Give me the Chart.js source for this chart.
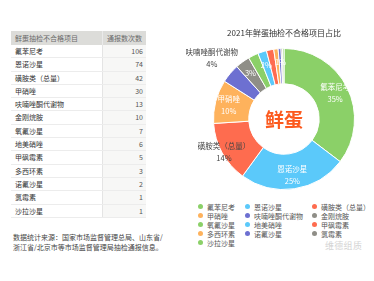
<!DOCTYPE html>
<html>
<head>
<meta charset="utf-8">
<script src="https://cdn.jsdelivr.net/npm/chart.js@4.4.1/dist/chart.umd.min.js"></script>
<style>
  body { margin: 0; width: 374px; height: 281px; background: #fff; position: relative; overflow: hidden;
         font-family: "Noto Sans CJK SC", "Noto Sans", sans-serif; }
  #table { position: absolute; left: 11px; top: 31px; width: 135px; font-size: 7px; }
  .row { display: flex; height: 13.3px; line-height: 13.3px; border-bottom: 1px solid #ececec; box-sizing: border-box; }
  .row .name { width: 87px; padding-left: 4px; color: #333; border-right: 1px solid #e4e4e4; }
  .row .val { flex: 1; text-align: right; padding-right: 3px; color: #555; background: #f7f7f6; }
  .row.head { height: 14px; line-height: 14px; background: #dcdcd9; border-bottom: none; }
  .row.head .name, .row.head .val { color: #6a6a6a; background: none; border-right: 1px solid #eaeaea; }
  .row.head .val { text-align: left; padding-left: 4px; border-right: none; }
  #note { position: absolute; left: 13px; top: 232px; font-size: 7px; line-height: 10px; color: #444; }
  #chartBox { position: absolute; left: 180px; top: 0; width: 194px; height: 200px; }
  #legend { position: absolute; left: 198px; top: 202px; font-size: 7px; color: #555;
            display: grid; grid-template-columns: 47px 67px auto; grid-auto-rows: 9.1px; }
  #legend div { display: flex; align-items: center; white-space: nowrap; }
  #legend span.dot { width: 5px; height: 5px; border-radius: 50%; margin-right: 4px; flex: none; }
  #mark { position: absolute; left: 325px; top: 239px; font-size: 9px; color: #d4d4d4; letter-spacing: 0.3px; }
</style>
</head>
<body>
<div id="table"></div>
<div id="note">数据统计来源：国家市场监督管理总局、山东省/<br>浙江省/北京市等市场监督管理局抽检通报信息。</div>
<div id="chartBox"><canvas id="myChart"></canvas></div>
<div id="legend"></div>
<div id="mark">维德组质</div>
<script>
const headers = ["鲜蛋抽检不合格项目", "通报数次数"];
const items = ["氟苯尼考", "恩诺沙星", "磺胺类（总量）", "甲硝唑", "呋喃唑酮代谢物", "金刚烷胺",
  "氧氟沙星", "地美硝唑", "甲砜霉素", "多西环素", "诺氟沙星", "氯霉素", "沙拉沙星"];
const counts = [106, 74, 42, 30, 13, 10, 7, 6, 5, 3, 2, 1, 1];
const chartTitle = "2021年鲜蛋抽检不合格项目占比";
const centerText = "鲜蛋";

const palette = ["#8bd068", "#5bc9fa", "#fe6c4f", "#feb25c", "#6d70d1", "#8f8e87"];
const colors = items.map((item, i) => palette[i % palette.length]);

// table
let html = `<div class="row head"><div class="name">${headers[0]}</div><div class="val">${headers[1]}</div></div>`;
items.forEach((item, i) => {
  html += `<div class="row"><div class="name">${item}</div><div class="val">${counts[i]}</div></div>`;
});
document.getElementById("table").innerHTML = html;

// legend
document.getElementById("legend").innerHTML = items
  .map((item, i) => `<div><span class="dot" style="background:${colors[i]}"></span>${item}</div>`)
  .join("");

const total = counts.reduce((a, b) => a + b, 0);

const labelPlugin = {
  id: "sliceLabels",
  afterDatasetsDraw(chart) {
    const ctx = chart.ctx;
    const arcs = chart.getDatasetMeta(0).data;
    const font = '7.5px "Noto Sans CJK SC"';
    const placed = [];
    ctx.save();
    ctx.textAlign = "center";
    ctx.textBaseline = "middle";
    arcs.forEach((arc, i) => {
      const p = arc.getProps(["x", "y", "startAngle", "endAngle", "innerRadius", "outerRadius"], true);
      const mid = (p.startAngle + p.endAngle) / 2;
      const share = counts[i] / total;
      const pct = Math.round(share * 100) + "%";
      let r, lines, color;
      if (items[i].length > 4 && share >= 0.04) {
        // long names go outside the ring
        r = p.outerRadius + (i === 4 ? 24 : -2);
        lines = [items[i], pct];
        color = "#444";
      } else {
        r = p.innerRadius + (p.outerRadius - p.innerRadius) * 0.62;
        lines = share >= 0.08 ? [items[i], pct] : [pct];
        color = "#fff";
      }
      const x = p.x + Math.cos(mid) * r;
      const y = p.y + Math.sin(mid) * r;
      if (lines.length === 1 && placed.some((q) => Math.hypot(q[0] - x, q[1] - y) < 13)) return;
      placed.push([x, y]);
      ctx.font = font;
      ctx.fillStyle = color;
      const step = 12;
      lines.forEach((t, k) => {
        ctx.fillText(t, x, y + (k - (lines.length - 1) / 2) * step);
      });
    });
    const c = arcs[0];
    ctx.font = 'bold 19px "Noto Sans CJK SC"';
    ctx.fillStyle = "#fc5a1e";
    ctx.fillText(centerText, c.x, c.y + 1);
    ctx.restore();
  },
};

const config = {
  type: "doughnut",
  data: {
    labels: items,
    datasets: [
      {
        data: counts,
        backgroundColor: colors,
        borderColor: "#fff",
        borderWidth: 1,
      },
    ],
  },
  options: {
    responsive: true,
    maintainAspectRatio: false,
    animation: false,
    cutout: "50%",
    layout: { padding: { left: 33, right: 19, top: 20, bottom: 10 } },
    plugins: {
      legend: { display: false },
      tooltip: { enabled: false },
      title: {
        display: true,
        text: chartTitle,
        color: "#333",
        font: { family: '"Noto Sans CJK SC"', size: 8, weight: "normal" },
        padding: { top: 8, bottom: 10.4 },
      },
    },
  },
  plugins: [labelPlugin],
};
const myChart = new Chart(document.getElementById("myChart"), config);
</script>
</body>
</html>
